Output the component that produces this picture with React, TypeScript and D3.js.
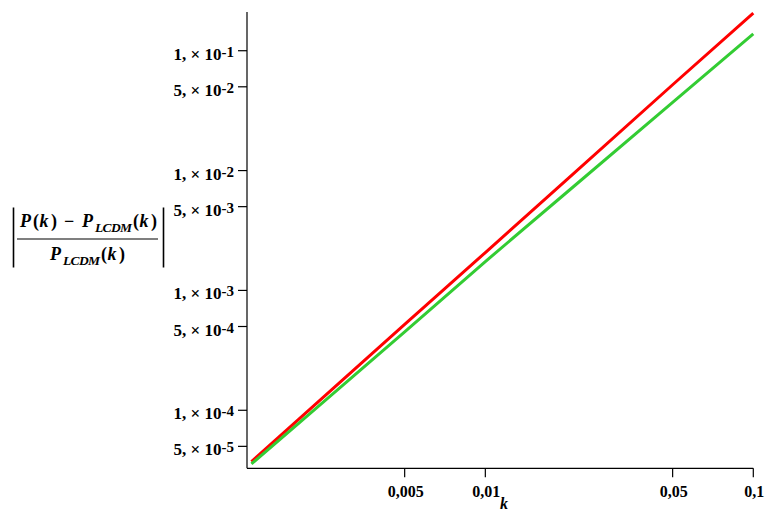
import React from "react";
import * as d3 from "d3";

const kValues = [0.00134, 0.002, 0.005, 0.01, 0.02, 0.05, 0.1];
const redSeries = [3.73e-5, 8.3e-5, 5.2e-4, 2.07e-3, 8.3e-3, 5.2e-2, 0.206];
const greenSeries = [3.57e-5, 7.7e-5, 4.5e-4, 1.74e-3, 6.5e-3, 3.7e-2, 0.138];

const xTicks = [0.005, 0.01, 0.05, 0.1];
const xTickLabels = ["0,005", "0,01", "0,05", "0,1"];
const yTicks = [1e-1, 5e-2, 1e-2, 5e-3, 1e-3, 5e-4, 1e-4, 5e-5];
const yTickMantissa = ["1", "5", "1", "5", "1", "5", "1", "5"];
const yTickExponent = ["-1", "-2", "-2", "-3", "-3", "-4", "-4", "-5"];

const W = 771;
const H = 521;
const FONT = "Liberation Serif";

type Piece = { t: string; x: number; it?: boolean; sub?: boolean };
const numerPieces: Piece[] = [
  { t: "P", x: 20, it: true },
  { t: "(", x: 33 },
  { t: "k", x: 39.5, it: true },
  { t: ")", x: 51 },
  { t: "−", x: 64 },
  { t: "P", x: 82, it: true },
  { t: "LCDM", x: 95, it: true, sub: true },
  { t: "(", x: 133 },
  { t: "k", x: 139.5, it: true },
  { t: ")", x: 151 },
];
const denomPieces: Piece[] = [
  { t: "P", x: 50, it: true },
  { t: "LCDM", x: 63, it: true, sub: true },
  { t: "(", x: 101 },
  { t: "k", x: 107.5, it: true },
  { t: ")", x: 119 },
];

export default function App() {
  const x = d3.scaleLog().domain([0.00129, 0.1]).range([247, 753.3]);
  const y = d3.scaleLog().domain([3.28e-5, 0.2104]).range([468.3, 12]);
  const x0 = 247;
  const y0 = 468.3;

  const line = d3
    .line<number>()
    .x((_, i) => x(kValues[i]))
    .y((d) => y(d));

  const txt = { fontFamily: FONT, fontWeight: "bold" as const };

  const renderPieces = (pieces: Piece[], baseline: number, key: string) =>
    pieces.map((p, i) => (
      <text
        key={key + i}
        x={p.x}
        y={p.sub ? baseline + 5 : baseline}
        fontSize={p.sub ? 13.5 : 18}
        fontStyle={p.it ? "italic" : "normal"}
        style={txt}
        fill="#000"
        textLength={p.sub ? 37 : undefined}
      >
        {p.t}
      </text>
    ));

  return (
    <svg
      width={W}
      height={H}
      style={{ position: "absolute", left: 0, top: 0, background: "#fff" }}
    >
      <rect x={0} y={0} width={W} height={H} fill="#fff" />
      {/* axes */}
      <line x1={x0} y1={12} x2={x0} y2={y0} stroke="#000" strokeWidth={1.2} />
      <line x1={x0} y1={y0} x2={753.3} y2={y0} stroke="#000" strokeWidth={1.2} />

      {/* x ticks */}
      {xTicks.map((t, i) => (
        <g key={"xt" + i}>
          <line x1={x(t)} x2={x(t)} y1={y0} y2={y0 + 9} stroke="#000" strokeWidth={1.2} />
          <text x={x(t) + 1} y={496.5} textAnchor="middle" fontSize={16} style={txt} fill="#000">
            {xTickLabels[i]}
          </text>
        </g>
      ))}
      <text
        x={504}
        y={509}
        textAnchor="middle"
        fontSize={16}
        fontStyle="italic"
        style={txt}
        fill="#000"
      >
        k
      </text>

      {/* y ticks */}
      {yTicks.map((t, i) => (
        <g key={"yt" + i}>
          <line x1={x0 - 9} x2={x0} y1={y(t)} y2={y(t)} stroke="#000" strokeWidth={1.2} />
          <text x={234} y={y(t) + 9} textAnchor="end" fontSize={17} style={txt} fill="#000">
            <tspan>{yTickMantissa[i]}, × 10</tspan>
            <tspan dy={-3} fontSize={15}>
              {yTickExponent[i]}
            </tspan>
          </text>
        </g>
      ))}

      {/* y label */}
      <g>
        <line x1={13.5} x2={13.5} y1={207.5} y2={267.5} stroke="#000" strokeWidth={1.6} />
        <line x1={163.5} x2={163.5} y1={207.5} y2={267.5} stroke="#000" strokeWidth={1.6} />
        <line x1={17} x2={158} y1={239} y2={239} stroke="#000" strokeWidth={1.2} />
        {renderPieces(numerPieces, 226.7, "n")}
        {renderPieces(denomPieces, 260, "d")}
      </g>

      {/* series */}
      <path d={line(redSeries) || ""} fill="none" stroke="#ff0000" strokeWidth={3} />
      <path d={line(greenSeries) || ""} fill="none" stroke="#33cc33" strokeWidth={3} />
    </svg>
  );
}
